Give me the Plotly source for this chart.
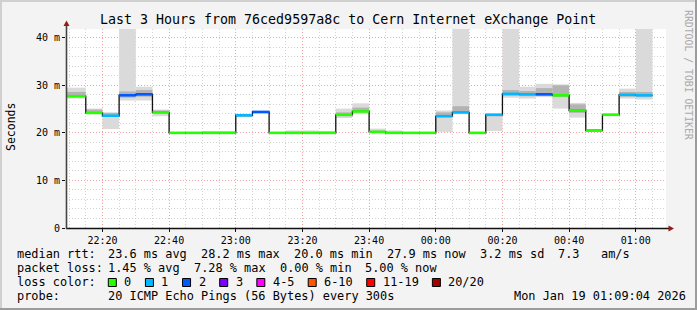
import plotly.graph_objects as go
from datetime import datetime

# ---------------- data ----------------
x_start = "2026-01-18 22:09:04"
x_end = "2026-01-19 01:09:04"
last_end = "2026-01-19 01:05:00"

seg_start = [
    "2026-01-18 22:09:04", "2026-01-18 22:15:00", "2026-01-18 22:20:00", "2026-01-18 22:25:00",
    "2026-01-18 22:30:00", "2026-01-18 22:35:00", "2026-01-18 22:40:00", "2026-01-18 22:45:00",
    "2026-01-18 22:50:00", "2026-01-18 22:55:00", "2026-01-18 23:00:00", "2026-01-18 23:05:00",
    "2026-01-18 23:10:00", "2026-01-18 23:15:00", "2026-01-18 23:20:00", "2026-01-18 23:25:00",
    "2026-01-18 23:30:00", "2026-01-18 23:35:00", "2026-01-18 23:40:00", "2026-01-18 23:45:00",
    "2026-01-18 23:50:00", "2026-01-18 23:55:00", "2026-01-19 00:00:00", "2026-01-19 00:05:00",
    "2026-01-19 00:10:00", "2026-01-19 00:15:00", "2026-01-19 00:20:00", "2026-01-19 00:25:00",
    "2026-01-19 00:30:00", "2026-01-19 00:35:00", "2026-01-19 00:40:00", "2026-01-19 00:45:00",
    "2026-01-19 00:50:00", "2026-01-19 00:55:00", "2026-01-19 01:00:00",
]
median_ms = [27.7, 24.2, 23.6, 27.9, 28.1, 24.3, 20.0, 20.0, 20.0, 20.0,
             23.7, 24.4, 20.0, 20.0, 20.0, 20.0, 23.8, 24.5, 20.2, 20.0,
             20.0, 20.0, 23.5, 24.3, 20.0, 23.8, 28.2, 28.1, 28.1, 27.9,
             24.7, 20.5, 23.8, 28.0, 27.9]
loss_pings = [0, 0, 1, 2, 2, 0, 0, 0, 0, 0,
              1, 2, 0, 0, 0, 0, 0, 0, 0, 0,
              0, 0, 1, 1, 0, 1, 1, 1, 2, 0,
              0, 0, 0, 1, 1]
smoke_lo = [27.2, 23.9, 20.8, 26.8, 26.8, 23.5, 20.0, 20.0, 20.0, 20.0,
            23.3, 24.0, 20.0, 20.0, 20.0, 20.0, 23.1, 24.0, 19.9, 20.0,
            20.0, 20.0, 20.2, 23.9, 20.0, 20.4, 27.4, 27.2, 27.5, 25.1,
            23.2, 20.2, 23.6, 27.2, 27.0]
smoke_hi = [29.5, 25.1, 24.3, 42.0, 29.7, 24.9, 20.1, 20.1, 20.4, 20.4,
            23.9, 24.6, 20.1, 20.5, 20.5, 20.3, 25.1, 26.2, 20.9, 20.5,
            20.1, 20.1, 24.7, 42.0, 20.1, 24.1, 42.0, 29.7, 30.3, 30.2,
            26.3, 20.8, 24.1, 29.3, 42.0]
inner_lo = [27.5, 24.1, 23.4, 27.4, 27.6, 24.0, 20.0, 20.0, 20.0, 20.0,
            23.5, 24.2, 20.0, 20.0, 20.0, 20.0, 23.5, 24.3, 20.0, 20.0,
            20.0, 20.0, 23.3, 24.1, 20.0, 23.5, 27.8, 27.7, 27.8, 27.5,
            24.2, 20.3, 23.7, 27.6, 27.5]
inner_hi = [28.6, 24.9, 24.2, 28.7, 29.0, 24.7, 20.1, 20.1, 20.1, 20.1,
            23.9, 24.6, 20.1, 20.1, 20.1, 20.1, 24.3, 25.3, 20.5, 20.1,
            20.1, 20.1, 24.3, 25.6, 20.1, 24.0, 29.0, 28.8, 29.4, 30.0,
            26.0, 20.7, 24.0, 28.6, 28.6]

y_tick_vals = [0, 10, 20, 30, 40]
y_tick_text = ["0", "10 m", "20 m", "30 m", "40 m"]

loss_labels = ["0", "1", "2", "3", "4-5", "6-10", "11-19", "20/20"]
loss_colors = ["#26ff00", "#00b8ff", "#0059ff", "#7e00ff", "#ff00ff", "#ff5500", "#ff0000", "#a10000"]

title_text = "Last 3 Hours from 76ced9597a8c to Cern Internet eXchange Point"
rtt_items = [("median rtt:", 16), ("23.6 ms avg", 107.3), ("28.2 ms max", 200), ("20.0 ms min", 293.3),
             ("27.9 ms now", 386), ("3.2 ms sd", 478.5), ("7.3", 556.7), ("am/s", 600)]
loss_items = [("packet loss:", 16), ("1.45 % avg", 107.3), ("7.28 % max", 192.9),
              ("0.00 % min", 278.5), ("5.00 % now", 364.1)]
probe_items = [("probe:", 16), ("20 ICMP Echo Pings (56 Bytes) every 300s", 107.3),
               ("Mon Jan 19 01:09:04 2026", 513.3)]

# ---------------- geometry ----------------
W, H = 697, 310
PL, PR, PT, PB = 66, 666, 29, 228
Y_TOP = 41.83
FONT = "DejaVu Sans Mono"


def px(x):
    return (x - PL) / (PR - PL)


def py(y):
    return (PB - y) / (PB - PT)


def t(s):
    return datetime.fromisoformat(s)


ends = seg_start[1:] + [last_end]
widths = [(t(e) - t(s)).total_seconds() * 1000 for s, e in zip(seg_start, ends)]

fig = go.Figure()

fig.add_trace(go.Bar(x=seg_start, y=[h - l for l, h in zip(smoke_lo, smoke_hi)], base=smoke_lo,
                     width=widths, offset=0, marker=dict(color="#dadada", line=dict(width=0)),
                     hoverinfo="skip", showlegend=False))
fig.add_trace(go.Bar(x=seg_start, y=[h - l for l, h in zip(inner_lo, inner_hi)], base=inner_lo,
                     width=widths, offset=0, marker=dict(color="#b3b3b3", line=dict(width=0)),
                     hoverinfo="skip", showlegend=False))

fig.add_trace(go.Scatter(x=seg_start + [last_end], y=median_ms + [median_ms[-1]], mode="lines",
                         line=dict(shape="hv", color="#111111", width=1.3),
                         hoverinfo="skip", showlegend=False))

for li in sorted(set(loss_pings)):
    xs, ys = [], []
    for s, e, m, l in zip(seg_start, ends, median_ms, loss_pings):
        if l == li:
            xs += [s, e, None]
            ys += [m, m, None]
    fig.add_trace(go.Scatter(x=xs, y=ys, mode="lines", line=dict(color=loss_colors[li], width=2.6),
                             hoverinfo="skip", showlegend=False))

shapes = []
# outer frame
shapes.append(dict(type="line", xref="paper", yref="paper", x0=px(0), x1=px(W), y0=py(1), y1=py(1),
                   line=dict(color="#d0d0d0", width=2)))
shapes.append(dict(type="line", xref="paper", yref="paper", x0=px(1), x1=px(1), y0=py(0), y1=py(H),
                   line=dict(color="#d0d0d0", width=2)))
shapes.append(dict(type="line", xref="paper", yref="paper", x0=px(696), x1=px(696), y0=py(0), y1=py(H),
                   line=dict(color="#9c9c9c", width=2)))
shapes.append(dict(type="line", xref="paper", yref="paper", x0=px(0), x1=px(W), y0=py(309), y1=py(309),
                   line=dict(color="#9c9c9c", width=2)))
# axes
shapes.append(dict(type="line", xref="paper", yref="paper", x0=px(66), x1=px(669), y0=py(228.5), y1=py(228.5),
                   line=dict(color="#111111", width=1.6)))
shapes.append(dict(type="line", xref="paper", yref="paper", x0=px(66.5), x1=px(66.5), y0=py(26), y1=py(229),
                   line=dict(color="#444444", width=1.6)))
shapes.append(dict(type="path", xref="paper", yref="paper",
                   path=f"M {px(668.5)} {py(225.5)} L {px(674)} {py(228.5)} L {px(668.5)} {py(231.5)} Z",
                   fillcolor="#9a1818", line=dict(width=0)))
shapes.append(dict(type="path", xref="paper", yref="paper",
                   path=f"M {px(63.5)} {py(26)} L {px(66.5)} {py(20.5)} L {px(69.5)} {py(26)} Z",
                   fillcolor="#9a1818", line=dict(width=0)))

annotations = []


def txt(text, x, y, size, anchor="left", angle=0, color="black"):
    annotations.append(dict(text=text, x=px(x), y=py(y), xref="paper", yref="paper", showarrow=False,
                            xanchor=anchor, yanchor="middle", textangle=angle, borderpad=0,
                            font=dict(family=FONT, size=size, color=color)))


txt(title_text, 347.5, 19.3, 13.3, anchor="center")
txt("Seconds", 11, 127, 11.5, anchor="center", angle=-90)
txt("RRDTOOL / TOBI OETIKER", 689, 75, 9.8, anchor="center", angle=90, color="#aaaaaa")

for s, x in rtt_items:
    txt(s, x, 254.3, 11.9)
for s, x in loss_items:
    txt(s, x, 268.3, 11.9)
for s, x in probe_items:
    txt(s, x, 296, 11.9)

txt("loss color:", 16, 282.3, 11.9)
CW = 7.13
sx = 108.3
for lab, col in zip(loss_labels, loss_colors):
    shapes.append(dict(type="rect", xref="paper", yref="paper", x0=px(sx), x1=px(sx + 8),
                       y0=py(278.5), y1=py(286.5), fillcolor=col, line=dict(color="black", width=1)))
    txt(lab, sx + 15, 282.3, 11.9)
    sx = sx + 15 + CW * len(lab) + 15

fig.update_layout(
    width=W, height=H,
    margin=dict(l=PL, r=W - PR, t=PT, b=H - PB, pad=0),
    paper_bgcolor="#f3f3f3", plot_bgcolor="white",
    barmode="overlay", showlegend=False,
    shapes=shapes, annotations=annotations,
    font=dict(family=FONT, color="black"),
)
fig.update_xaxes(
    type="date", range=[x_start, x_end], tick0="2026-01-18 22:20:00", dtick=1200000,
    tickformat="%H:%M", showgrid=True, gridcolor="#f2a0a0", griddash="1px,2px", gridwidth=1,
    ticks="outside", ticklen=3, tickcolor="#111111",
    tickfont=dict(family=FONT, size=10, color="black"),
    minor=dict(dtick=300000, tick0="2026-01-18 22:20:00", showgrid=True, gridcolor="#d2d2d2",
               griddash="1px,2px", gridwidth=1),
    showline=False, zeroline=False, fixedrange=True,
)
fig.update_yaxes(
    range=[0, Y_TOP], tickvals=y_tick_vals, ticktext=y_tick_text,
    showgrid=True, gridcolor="#f2a0a0", griddash="1px,2px", gridwidth=1,
    ticks="outside", ticklen=3, tickcolor="#111111",
    tickfont=dict(family=FONT, size=10, color="black"),
    minor=dict(dtick=2, tick0=0, showgrid=True, gridcolor="#d2d2d2", griddash="1px,2px", gridwidth=1),
    showline=False, zeroline=False, fixedrange=True,
)

fig.write_html("out.html")
